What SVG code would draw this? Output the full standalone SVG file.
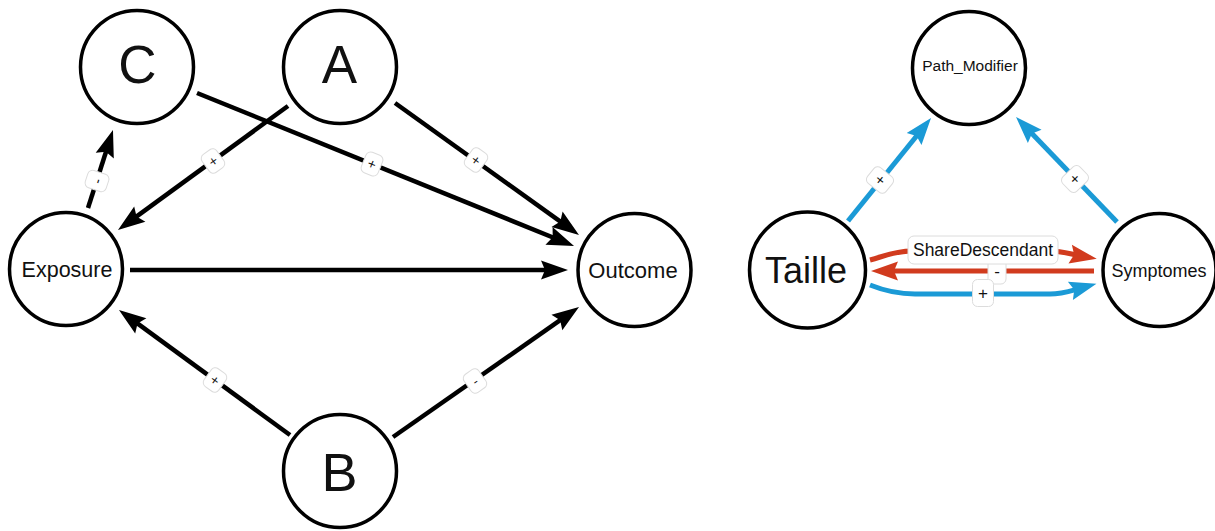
<svg xmlns="http://www.w3.org/2000/svg" width="1215" height="531" viewBox="0 0 1215 531">
<style>
.node{fill:#fff;stroke:#000;stroke-width:3.5}
.nt{font-family:"Liberation Sans",Arial,sans-serif;fill:#111;text-anchor:middle}
.e{fill:none;stroke:#000;stroke-width:4.5}
.er{fill:none;stroke:#d13b1e;stroke-width:5}
.eb{fill:none;stroke:#1b9ad6;stroke-width:5}
.lb{fill:#fff;stroke:#dcdcdc;stroke-width:1}
.lt{font-family:"Liberation Sans",Arial,sans-serif;fill:#111;text-anchor:middle}
</style>
<defs>
<marker id="ak" viewBox="-28 -10 30 20" markerWidth="30" markerHeight="20" refX="-16" refY="0" orient="auto" markerUnits="userSpaceOnUse">
<path d="M0,0 L-27,-9.5 L-23,0 L-27,9.5 Z" fill="#000"/>
</marker>
<marker id="ar" viewBox="-28 -10 30 20" markerWidth="30" markerHeight="20" refX="-16" refY="0" orient="auto" markerUnits="userSpaceOnUse">
<path d="M0,0 L-27,-9.5 L-23,0 L-27,9.5 Z" fill="#d13b1e"/>
</marker>
<marker id="ab" viewBox="-28 -10 30 20" markerWidth="30" markerHeight="20" refX="-16" refY="0" orient="auto" markerUnits="userSpaceOnUse">
<path d="M0,0 L-27,-9.5 L-23,0 L-27,9.5 Z" fill="#1b9ad6"/>
</marker>
</defs>
<rect width="1215" height="531" fill="#fff"/>
<g id="edges">
<line class="e" x1="88" y1="208" x2="108.1" y2="145.2" marker-end="url(#ak)"/>
<line class="e" x1="288" y1="106" x2="130.9" y2="220.6" marker-end="url(#ak)"/>
<line class="e" x1="197" y1="93" x2="559.2" y2="240" marker-end="url(#ak)"/>
<line class="e" x1="395" y1="103" x2="566" y2="225.7" marker-end="url(#ak)"/>
<line class="e" x1="130" y1="270" x2="552" y2="270" marker-end="url(#ak)"/>
<line class="e" x1="290" y1="435" x2="131.9" y2="319.4" marker-end="url(#ak)"/>
<line class="e" x1="393" y1="437" x2="565.9" y2="316.2" marker-end="url(#ak)"/>
<line class="eb" x1="848" y1="221" x2="921" y2="130.5" marker-end="url(#ab)"/>
<line class="eb" x1="1117" y1="222" x2="1027.1" y2="128.5" marker-end="url(#ab)"/>
<path class="er" d="M870,260 C885,256 895,251 912,251 L1050,251 C1062,251 1070,254 1081,256" marker-end="url(#ar)"/>
<line class="er" x1="1094" y1="271" x2="887" y2="271" marker-end="url(#ar)"/>
<path class="eb" d="M870,285 C885,291 897,294 915,294 L1050,294 C1062,294 1070,291 1081,288" marker-end="url(#ab)"/>
<g transform="translate(97,181) rotate(-72)"><rect class="lb" x="-9" y="-11" width="18" height="22" rx="5"/><text class="lt" y="5" font-size="14">-</text></g>
<g transform="translate(213,161) rotate(-36)"><rect class="lb" x="-9" y="-11" width="18" height="22" rx="5"/><text class="lt" y="5" font-size="14">+</text></g>
<g transform="translate(372,164) rotate(22)"><rect class="lb" x="-9" y="-11" width="18" height="22" rx="5"/><text class="lt" y="5" font-size="14">+</text></g>
<g transform="translate(476,160) rotate(36)"><rect class="lb" x="-9" y="-11" width="18" height="22" rx="5"/><text class="lt" y="5" font-size="14">+</text></g>
<g transform="translate(215,380) rotate(36)"><rect class="lb" x="-9" y="-11" width="18" height="22" rx="5"/><text class="lt" y="5" font-size="14">+</text></g>
<g transform="translate(475,381) rotate(-35)"><rect class="lb" x="-9" y="-11" width="18" height="22" rx="5"/><text class="lt" y="5" font-size="14">-</text></g>
<g transform="translate(880,180) rotate(-51)"><rect class="lb" x="-10" y="-12" width="20" height="24" rx="5"/><text class="lt" y="5" font-size="15">+</text></g>
<g transform="translate(1075,179) rotate(46)"><rect class="lb" x="-10" y="-12" width="20" height="24" rx="5"/><text class="lt" y="5" font-size="15">+</text></g>
<g transform="translate(997,271)"><rect class="lb" x="-9" y="-13" width="18" height="26" rx="5"/><text class="lt" y="6" font-size="17">-</text></g>
<g transform="translate(983,293)"><rect class="lb" x="-10.5" y="-13.5" width="21" height="27" rx="5"/><text class="lt" y="6" font-size="17">+</text></g>
<g transform="translate(983,250)"><rect class="lb" x="-75" y="-14" width="150" height="28" rx="6"/><text class="lt" y="6.3" font-size="17.5">ShareDescendant</text></g>
</g>
<g id="node-C"><circle class="node" cx="137" cy="67" r="56.5"/><text class="nt" x="137.5" y="83" font-size="53">C</text></g>
<g id="node-A"><circle class="node" cx="340" cy="67" r="56.5"/><text class="nt" x="339.5" y="83" font-size="53">A</text></g>
<g id="node-Exposure"><circle class="node" cx="66" cy="269" r="56.5"/><text class="nt" x="67" y="276.5" font-size="21.5">Exposure</text></g>
<g id="node-Outcome"><circle class="node" cx="634.5" cy="270" r="56.5"/><text class="nt" x="633" y="277.5" font-size="22">Outcome</text></g>
<g id="node-B"><circle class="node" cx="340" cy="471" r="56.5"/><text class="nt" x="339.5" y="491" font-size="54">B</text></g>
<g id="node-Path_Modifier"><circle class="node" cx="969" cy="68" r="56.5"/><text class="nt" x="970" y="71" font-size="15.5">Path_Modifier</text></g>
<g id="node-Taille"><circle class="node" cx="807.5" cy="270" r="58"/><text class="nt" x="806" y="283" font-size="36">Taille</text></g>
<g id="node-Symptomes"><circle class="node" cx="1159.5" cy="270" r="56.5"/><text class="nt" x="1159" y="276.5" font-size="18">Symptomes</text></g>
</svg>
